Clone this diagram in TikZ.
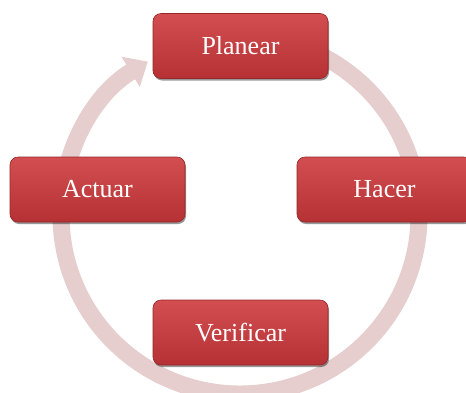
\documentclass[tikz,border=0pt]{standalone}
\usepackage{fontspec}
\setmainfont{Liberation Serif}
\usetikzlibrary{arrows.meta,shadows}
\definecolor{ringcol}{HTML}{E6CDCE}
\definecolor{boxtop}{HTML}{D24E50}
\definecolor{boxmid}{HTML}{C63A3D}
\definecolor{boxbot}{HTML}{B53134}
\definecolor{boxline}{HTML}{962628}
\tikzset{
  stepbox/.style={rounded corners=8pt, minimum width=175pt, minimum height=65pt,
    top color=boxtop, middle color=boxmid, bottom color=boxbot, draw=boxline, line width=0.6pt,
    drop shadow={shadow xshift=1pt, shadow yshift=-2pt, opacity=0.4, fill=black},
    text=white, font=\fontsize{26}{30}\selectfont, inner sep=0pt},
  ring/.style={draw=ringcol, line width=17pt, -{Triangle[width=34pt,length=20pt]}}
}
\begin{document}
\begin{tikzpicture}[x=1pt,y=1pt]
\useasboundingbox (0,0) rectangle (466,-392);
\fill[white] (0,0) rectangle (466,-392);
\coordinate (c) at (240,-215);
\draw[ring] ([shift={(95:179)}]c) arc[start angle=95, end angle=-239, radius=179];
\node[stepbox] (planear) at (240.5,-46) {Planear};
\node[stepbox] (actuar) at (97.5,-189.5) {Actuar};
\node[stepbox] (hacer) at (384.5,-189.5) {Hacer};
\node[stepbox] (verificar) at (240.5,-332.5) {Verificar};
\end{tikzpicture}
\end{document}
